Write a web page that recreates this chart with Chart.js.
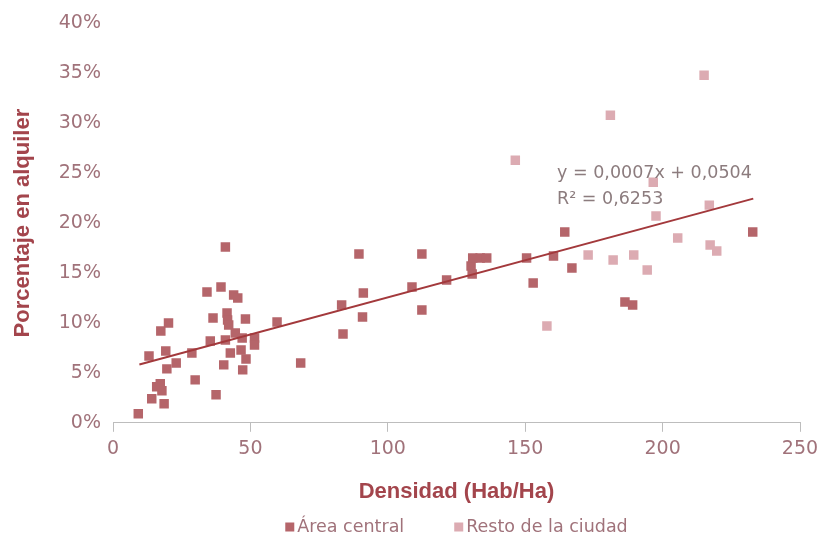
<!DOCTYPE html>
<html><head><meta charset="utf-8">
<script src="https://cdn.jsdelivr.net/npm/chart.js@4/dist/chart.umd.min.js"></script>
<style>html,body{margin:0;padding:0;background:#fff;}</style>
</head><body>
<canvas id="c" width="822" height="543" style="width:822px;height:543px;display:block"></canvas>
<script>
const seriesNames = ['Área central', 'Resto de la ciudad'];
const centralX = [9.2, 13.1, 14.1, 15.9, 17.2, 17.8, 18.6, 17.4, 20.2, 19.2, 19.6, 23.0, 28.7, 29.9, 34.2, 35.4, 36.4, 37.5, 39.3, 40.3, 40.9, 40.9, 41.5, 41.7, 42.1, 42.7, 43.9, 44.5, 45.4, 46.6, 47.0, 47.2, 48.2, 48.4, 51.5, 51.5, 59.7, 68.3, 83.2, 83.7, 89.5, 90.8, 91.1, 108.8, 112.4, 112.4, 121.4, 130.3, 130.7, 130.9, 133.6, 136.0, 150.5, 152.9, 160.3, 164.4, 167.0, 186.3, 189.1, 232.8];
const centralY = [0.009, 0.067, 0.024, 0.036, 0.039, 0.032, 0.019, 0.092, 0.100, 0.072, 0.054, 0.060, 0.070, 0.043, 0.131, 0.082, 0.105, 0.028, 0.136, 0.058, 0.176, 0.083, 0.110, 0.103, 0.098, 0.070, 0.128, 0.090, 0.125, 0.073, 0.085, 0.053, 0.104, 0.064, 0.085, 0.078, 0.101, 0.060, 0.118, 0.089, 0.169, 0.106, 0.130, 0.136, 0.169, 0.113, 0.143, 0.157, 0.149, 0.165, 0.165, 0.165, 0.165, 0.140, 0.167, 0.191, 0.155, 0.121, 0.118, 0.191];
const restoX = [146.4, 157.9, 172.9, 181.0, 182.0, 189.5, 194.4, 196.6, 197.6, 205.5, 215.1, 217.0, 217.3, 219.7];
const restoY = [0.263, 0.097, 0.168, 0.308, 0.163, 0.168, 0.153, 0.241, 0.207, 0.185, 0.348, 0.218, 0.178, 0.172];
const trendX = [9.6, 233];
const trendY = [0.0584, 0.2245];
const xTicks = [0, 50, 100, 150, 200, 250];
const yTicks = [0, 0.05, 0.10, 0.15, 0.20, 0.25, 0.30, 0.35, 0.40];
const equationLines = ['y = 0,0007x + 0,0504', 'R² = 0,6253'];
const equationPos = {x: 161.6, y: [0.250, 0.224]};
const xTitle = 'Densidad (Hab/Ha)';
const yTitle = 'Porcentaje en alquiler';

const TITLE_FONT = "'Liberation Sans Narrow','Liberation Sans',sans-serif";
const TEXT_FONT = "'DejaVu Sans',sans-serif";
const tickColor = '#a0727a';
const titleColor = '#a3454c';
const darkColor = '#b5656a';
const lightColor = '#dcabb2';

const zip = (xs, ys) => xs.map((x, i) => ({x: x, y: ys[i]}));

const eqPlugin = {
  id: 'eq',
  afterDatasetsDraw(chart) {
    const ctx = chart.ctx, xs = chart.scales.x, ys = chart.scales.y;
    ctx.save();
    ctx.font = "17.5px " + TEXT_FONT;
    ctx.fillStyle = '#8c7c7e';
    ctx.textBaseline = 'middle';
    ctx.textAlign = 'left';
    equationLines.forEach((t, i) => {
      ctx.fillText(t, xs.getPixelForValue(equationPos.x), ys.getPixelForValue(equationPos.y[i]));
    });
    ctx.restore();
  }
};

const legendPlugin = {
  id: 'customLegend',
  afterDraw(chart) {
    const ctx = chart.ctx, area = chart.chartArea;
    const items = chart.data.datasets.filter(d => d.label !== 'trend');
    const box = 9, gapBox = 3, gapItem = 50, cy = 527;
    ctx.save();
    ctx.font = "17.5px " + TEXT_FONT;
    ctx.textBaseline = 'middle';
    ctx.textAlign = 'left';
    const widths = items.map(d => ctx.measureText(d.label).width);
    let total = 0;
    widths.forEach((w, i) => { total += box + gapBox + w + (i ? gapItem : 0); });
    let x = (area.left + area.right) / 2 - total / 2;
    items.forEach((d, i) => {
      ctx.fillStyle = d.backgroundColor;
      ctx.fillRect(x, cy - box / 2, box, box);
      x += box + gapBox;
      ctx.fillStyle = tickColor;
      ctx.fillText(d.label, x, cy);
      x += widths[i] + gapItem;
    });
    ctx.restore();
  }
};

new Chart(document.getElementById('c'), {
  type: 'scatter',
  data: {
    datasets: [
      {label: 'trend', type: 'line', data: zip(trendX, trendY), borderColor: '#a3393c', borderWidth: 2, pointRadius: 0, fill: false, order: 0},
      {label: seriesNames[0], data: zip(centralX, centralY), backgroundColor: darkColor, borderColor: darkColor, borderWidth: 0, pointStyle: 'rect', pointRadius: 6.7, order: 1},
      {label: seriesNames[1], data: zip(restoX, restoY), backgroundColor: lightColor, borderColor: lightColor, borderWidth: 0, pointStyle: 'rect', pointRadius: 6.7, order: 2}
    ]
  },
  options: {
    responsive: false,
    animation: false,
    devicePixelRatio: 1,
    layout: {padding: {top: 22, right: 22, left: 0, bottom: 38}},
    plugins: {
      tooltip: {enabled: false},
      legend: {display: false}
    },
    scales: {
      x: {
        type: 'linear', min: 0, max: 250,
        afterBuildTicks: (s) => { s.ticks = xTicks.map(v => ({value: v})); },
        afterFit: (s) => { s.paddingRight = 0; s.paddingLeft = 0; },
        grid: {drawOnChartArea: false, drawTicks: true, tickLength: 9, color: '#bdbdbd'},
        border: {display: true, color: '#bdbdbd', width: 1},
        ticks: {color: tickColor, font: {family: TEXT_FONT, size: 19}, padding: 6, maxRotation: 0},
        title: {display: true, text: xTitle, color: titleColor, font: {family: TITLE_FONT, size: 22, weight: 'bold'}, padding: {top: 12, bottom: 0}}
      },
      y: {
        type: 'linear', min: 0, max: 0.4,
        afterBuildTicks: (s) => { s.ticks = yTicks.map(v => ({value: v})); },
        afterFit: (s) => { s.width = 113; },
        grid: {display: false, drawTicks: false},
        border: {display: false},
        ticks: {color: tickColor, font: {family: TEXT_FONT, size: 19}, padding: 12, callback: (v) => Math.round(v * 100) + '%'},
        title: {display: true, text: yTitle, color: titleColor, font: {family: TITLE_FONT, size: 22, weight: 'bold'}, padding: {top: 10, bottom: 0}}
      }
    }
  },
  plugins: [eqPlugin, legendPlugin]
});
</script>
</body></html>
